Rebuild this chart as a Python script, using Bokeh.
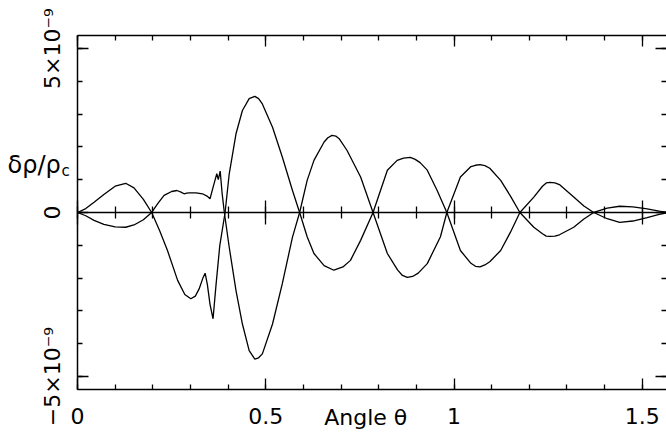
import math
from bokeh.plotting import figure
from bokeh.models import Range1d, FixedTicker, LinearAxis, Label
from bokeh.embed import file_html
from bokeh.resources import INLINE

# ---- data (delta rho / rho_c in units of 1e-9, against angle theta) ----
theta_a = [0.000, 0.022, 0.044, 0.070, 0.100, 0.128, 0.150, 0.175, 0.197, 0.218,
           0.239, 0.266, 0.285, 0.301, 0.313, 0.323, 0.333, 0.339, 0.345, 0.352,
           0.360, 0.368, 0.378, 0.392, 0.403, 0.421, 0.438, 0.456, 0.471, 0.481,
           0.491, 0.518, 0.544, 0.571, 0.590, 0.610, 0.628, 0.655, 0.681, 0.705,
           0.725, 0.752, 0.785, 0.823, 0.849, 0.866, 0.884, 0.897, 0.910, 0.929,
           0.955, 0.981, 1.017, 1.045, 1.057, 1.069, 1.082, 1.095, 1.124, 1.150,
           1.175, 1.212, 1.235, 1.245, 1.255, 1.268, 1.280, 1.318, 1.345, 1.371,
           1.407, 1.440, 1.475, 1.513, 1.545, 1.570]
drho_a = [0.00, 0.12, 0.31, 0.55, 0.80, 0.89, 0.75, 0.40, 0.00, -0.55,
          -1.16, -2.07, -2.50, -2.63, -2.55, -2.33, -2.00, -1.85, -2.20, -2.80,
          -3.24, -2.20, -1.00, 0.00, 1.18, 2.40, 3.11, 3.47, 3.54, 3.47,
          3.31, 2.60, 1.69, 0.67, 0.00, -0.74, -1.25, -1.62, -1.76, -1.66,
          -1.46, -0.85, 0.00, 1.29, 1.59, 1.66, 1.68, 1.62, 1.52, 1.29,
          0.68, 0.00, -1.16, -1.55, -1.64, -1.66, -1.60, -1.50, -1.16, -0.60,
          0.00, 0.47, 0.80, 0.90, 0.92, 0.90, 0.85, 0.47, 0.20, 0.00,
          -0.19, -0.30, -0.26, -0.16, -0.06, 0.00]

theta_b = [0.000, 0.022, 0.044, 0.070, 0.100, 0.128, 0.150, 0.175, 0.197, 0.215,
           0.230, 0.250, 0.264, 0.275, 0.283, 0.290, 0.297, 0.315, 0.332, 0.344,
           0.352, 0.362, 0.370, 0.374, 0.379, 0.384, 0.390, 0.403, 0.421, 0.438,
           0.456, 0.471, 0.481, 0.491, 0.518, 0.544, 0.571, 0.590, 0.610, 0.628,
           0.655, 0.665, 0.676, 0.686, 0.695, 0.716, 0.752, 0.785, 0.823, 0.850,
           0.863, 0.876, 0.890, 0.905, 0.929, 0.964, 0.981, 1.017, 1.045, 1.057,
           1.069, 1.082, 1.095, 1.124, 1.150, 1.175, 1.212, 1.235, 1.245, 1.255,
           1.268, 1.280, 1.318, 1.345, 1.371, 1.407, 1.440, 1.475, 1.513, 1.545,
           1.570]
drho_b = [0.00, -0.10, -0.24, -0.36, -0.44, -0.45, -0.38, -0.22, 0.00, 0.30,
          0.52, 0.64, 0.67, 0.62, 0.57, 0.59, 0.60, 0.60, 0.57, 0.50,
          0.42, 0.85, 1.18, 1.00, 1.26, 0.60, 0.00, -1.06, -2.38, -3.40,
          -4.21, -4.47, -4.43, -4.31, -3.40, -2.17, -0.75, 0.00, 0.98, 1.59,
          2.15, 2.28, 2.35, 2.33, 2.25, 1.89, 1.08, 0.00, -1.25, -1.75,
          -1.92, -1.98, -1.95, -1.85, -1.56, -0.74, 0.00, 1.08, 1.40, 1.44,
          1.46, 1.43, 1.35, 0.98, 0.50, 0.00, -0.45, -0.65, -0.72, -0.73,
          -0.72, -0.68, -0.45, -0.20, 0.00, 0.13, 0.19, 0.17, 0.11, 0.04,
          0.00]

# ---- ticks and labels ----
x_major = [0.0, 0.5, 1.0, 1.5]
x_minor = [0.0, 0.1, 0.2, 0.3, 0.4, 0.5, 0.6, 0.7, 0.8, 0.9, 1.0, 1.1, 1.2, 1.3, 1.4, 1.5]
x_labels = {0: "0", 0.5: "0.5", 1: "1", 1.5: "1.5"}
y_major = [-5, 0, 5]
y_minor = [-5, -4, -3, -2, -1, 0, 1, 2, 3, 4, 5]
y_labels = {-5: "−5×10⁻⁹", 0: "0", 5: "5×10⁻⁹"}
x_title = "Angle θ"
y_title = "δρ/ρ"
y_title_sub = "c"

# plotted box (data limits of the framed box) and the visible view around it
X0, X1 = 0.0, 1.5644
Y0, Y1 = -5.396, 5.396
VIEW_X = (-0.2045, 1.5644)
VIEW_Y = (-6.860, 6.463)

FONT = "DejaVu Sans"

p = figure(width=666, height=437,
           x_range=Range1d(*VIEW_X), y_range=Range1d(*VIEW_Y),
           output_backend="svg", toolbar_location=None,
           x_axis_location=None, y_axis_location=None,
           min_border=0)
p.grid.visible = False
p.outline_line_color = None
p.background_fill_color = "white"
p.border_fill_color = "white"


def make_axis(ticks, minor, labels, loc, bounds, show_labels=False, line=True,
              orient="horizontal", standoff=7, tin=11, tout=0, mtin=5, mtout=0):
    ax = LinearAxis(ticker=FixedTicker(ticks=ticks, minor_ticks=minor),
                    fixed_location=loc, bounds=bounds)
    ax.axis_line_color = "black" if line else None
    ax.axis_line_width = 1.5
    ax.major_tick_in = tin
    ax.major_tick_out = tout
    ax.minor_tick_in = mtin
    ax.minor_tick_out = mtout
    ax.major_tick_line_color = "black"
    ax.minor_tick_line_color = "black"
    ax.major_tick_line_width = 1.3
    ax.minor_tick_line_width = 1.3
    if show_labels:
        ax.major_label_overrides = labels
        ax.major_label_text_font = FONT
        ax.major_label_text_font_size = "22px"
        ax.major_label_text_color = "black"
        ax.major_label_standoff = standoff
        ax.major_label_orientation = orient
    else:
        ax.major_label_overrides = {k: "" for k in labels}
        ax.major_label_text_font_size = "0px"
        ax.major_label_standoff = 0
    return ax


# box: bottom, top, left, right
p.add_layout(make_axis(x_major, x_minor, x_labels, Y0, (X0, X1), show_labels=True, standoff=19), "below")
p.add_layout(make_axis(x_major, x_minor, x_labels, Y1, (X0, X1)), "above")
p.add_layout(make_axis(y_major, y_minor, y_labels, X0, (Y0, Y1), show_labels=True,
                       orient="vertical", standoff=12), "left")
p.add_layout(make_axis(y_major, y_minor, y_labels, X1, (Y0, Y1), line=False), "right")
# zero axis with crossing ticks
p.add_layout(make_axis(x_major, x_minor, x_labels, 0, (X0, X1), tin=12, tout=12,
                       mtin=6, mtout=6), "below")

# curves
p.line(theta_a, drho_a, line_color="black", line_width=1.3)
p.line(theta_b, drho_b, line_color="black", line_width=1.3)

# titles
p.add_layout(Label(x=0.7655, y=-6.25, text=x_title, text_align="center",
                   text_baseline="alphabetic", text_font=FONT, text_font_size="22px",
                   text_color="black"))
p.add_layout(Label(x=-0.1859, y=1.46, text=y_title, text_align="left",
                   text_baseline="alphabetic", text_font=FONT, text_font_size="24px",
                   text_color="black"))
p.add_layout(Label(x=-0.0425, y=1.26, text=y_title_sub, text_align="left",
                   text_baseline="alphabetic", text_font=FONT, text_font_size="15px",
                   text_color="black"))

open("out.html", "w").write(file_html(p, INLINE))
